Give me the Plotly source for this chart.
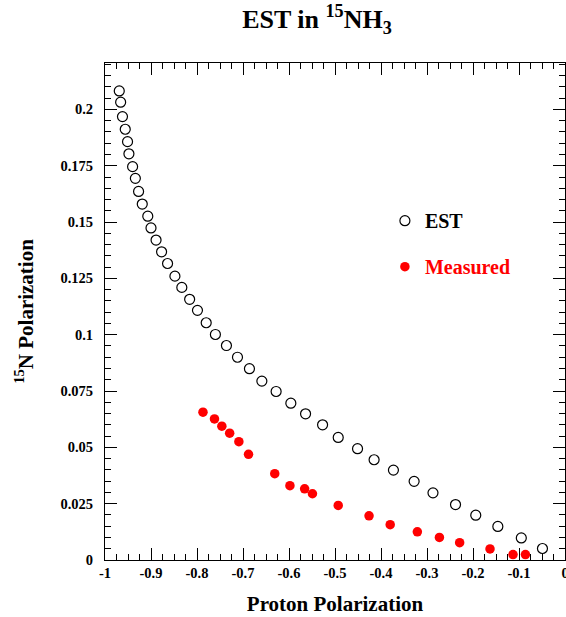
import plotly.graph_objects as go

# EST (open circles)
est_x = [-0.969, -0.966, -0.962, -0.956, -0.951, -0.948, -0.940, -0.934, -0.927, -0.919,
         -0.907, -0.900, -0.889, -0.877, -0.864, -0.848, -0.833, -0.816, -0.799, -0.780,
         -0.760, -0.736, -0.712, -0.686, -0.659, -0.628, -0.596, -0.564, -0.527, -0.493,
         -0.451, -0.415, -0.373, -0.328, -0.287, -0.238, -0.194, -0.146, -0.095, -0.049]
est_y = [0.2082, 0.2032, 0.1968, 0.1912, 0.1857, 0.1803, 0.1746, 0.1694, 0.1636, 0.1580,
         0.1526, 0.1474, 0.1420, 0.1368, 0.1316, 0.1260, 0.1210, 0.1157, 0.1108, 0.1053,
         0.1001, 0.0952, 0.0900, 0.0849, 0.0794, 0.0748, 0.0696, 0.0649, 0.0600, 0.0544,
         0.0494, 0.0445, 0.0399, 0.0349, 0.0298, 0.0246, 0.0199, 0.0149, 0.0098, 0.0051]

# Measured (filled red)
meas_x = [-0.787, -0.762, -0.746, -0.729, -0.709, -0.688, -0.631, -0.598, -0.566, -0.549,
          -0.493, -0.426, -0.380, -0.321, -0.273, -0.229, -0.163, -0.113, -0.086]
meas_y = [0.0656, 0.0626, 0.0594, 0.0563, 0.0525, 0.0469, 0.0383, 0.0330, 0.0316, 0.0294,
          0.0242, 0.0196, 0.0157, 0.0125, 0.0100, 0.0077, 0.0049, 0.0024, 0.0024]

x_tickvals = [-1, -0.9, -0.8, -0.7, -0.6, -0.5, -0.4, -0.3, -0.2, -0.1, 0]
x_ticktext = ["-1", "-0.9", "-0.8", "-0.7", "-0.6", "-0.5", "-0.4", "-0.3", "-0.2", "-0.1", "0"]
y_tickvals = [0, 0.025, 0.05, 0.075, 0.1, 0.125, 0.15, 0.175, 0.2]
y_ticktext = ["0", "0.025", "0.05", "0.075", "0.1", "0.125", "0.15", "0.175", "0.2"]

FONT = "Liberation Serif"

fig = go.Figure()
fig.add_trace(go.Scatter(
    x=est_x, y=est_y, mode="markers", name="EST", legendgroup="a",
    marker=dict(symbol="circle-open", size=10, color="black", line=dict(width=1.2, color="black")),
))
fig.add_trace(go.Scatter(
    x=meas_x, y=meas_y, mode="markers", name="<span style='color:#ff0000'>Measured</span>",
    legendgroup="b",
    marker=dict(symbol="circle", size=9.5, color="#ff0000"),
))

axis_common = dict(
    showline=True, linecolor="black", linewidth=1, mirror="allticks",
    ticks="inside", ticklen=12, tickcolor="black", tickwidth=1,
    showgrid=False, zeroline=False, ticklabeloverflow="allow", automargin=False,
    tickfont=dict(family=FONT, size=14.5, color="black", weight="bold"),
)

fig.update_layout(
    width=566, height=617,
    margin=dict(l=105, r=1, t=63, b=57),
    paper_bgcolor="white", plot_bgcolor="white",
    font=dict(family=FONT, color="black", weight="bold"),
    title=dict(
        text="EST in <sup>15</sup>NH<sub>3</sub>",
        x=0.56, xanchor="center", y=0.969, yanchor="middle", yref="container",
        font=dict(family=FONT, size=26, color="black", weight="bold"),
    ),
    xaxis=dict(
        range=[-1, 0], tickmode="array", tickvals=x_tickvals, ticktext=x_ticktext,
        minor=dict(dtick=0.025, tick0=0, ticks="inside", ticklen=6, tickcolor="black"),
        title=dict(text="Proton Polarization", standoff=15,
                   font=dict(family=FONT, size=21, color="black", weight="bold")),
        **axis_common,
    ),
    yaxis=dict(
        range=[0, 0.2206], tickmode="array", tickvals=y_tickvals, ticktext=y_ticktext,
        minor=dict(dtick=0.005, tick0=0, ticks="inside", ticklen=6, tickcolor="black"),
        ticklabelstandoff=8,
        title=dict(text="<sup>15</sup>N Polarization", standoff=21,
                   font=dict(family=FONT, size=21, color="black", weight="bold")),
        **axis_common,
    ),
    legend=dict(
        x=0.6085, y=0.722, xanchor="left", yanchor="top",
        font=dict(family=FONT, size=20, color="black", weight="bold"),
        bgcolor="rgba(0,0,0,0)", borderwidth=0, tracegroupgap=17,
        traceorder="grouped",
    ),
)

fig.write_html("out.html", config={"displayModeBar": False},
               post_script="document.body.style.margin='0';")
